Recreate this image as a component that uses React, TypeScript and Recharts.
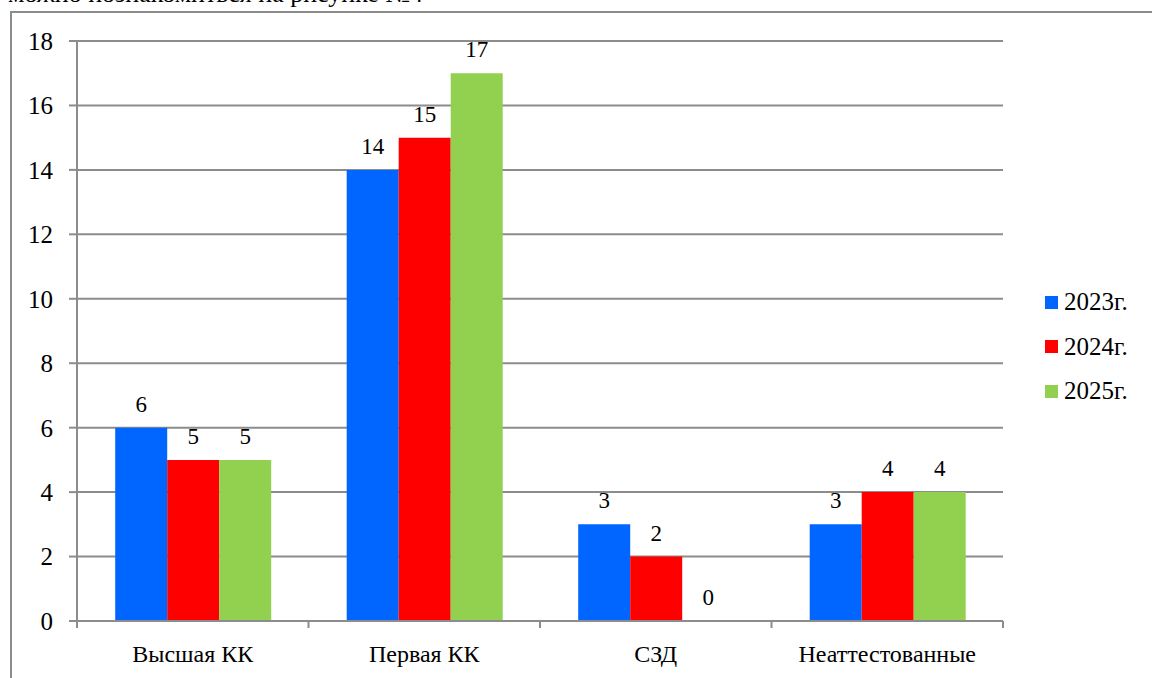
import { BarChart, Bar, XAxis, YAxis, CartesianGrid, Legend, LabelList } from 'recharts'

const categories = ['Высшая КК', 'Первая КК', 'СЗД', 'Неаттестованные']
const seriesNames = ['2023г.', '2024г.', '2025г.']
const values2023 = [6, 14, 3, 3]
const values2024 = [5, 15, 2, 4]
const values2025 = [5, 17, 0, 4]
const yTicks = [0, 2, 4, 6, 8, 10, 12, 14, 16, 18]

const COLORS = ['#0066FF', '#FF0000', '#92D050']
const FONT = 'Tinos, "Liberation Serif", "Times New Roman", Times, "DejaVu Serif", "Noto Serif", serif'
const AXIS = '#8c8c8c'

const data = categories.map((name, i) => ({
  name,
  y2023: values2023[i],
  y2024: values2024[i],
  y2025: values2025[i],
}))

const keys = ['y2023', 'y2024', 'y2025']

// zero-height bars get dropped from the label list, so give them a hair of height
const tinyForZero = (v: any) => (v === 0 || (Array.isArray(v) && v[1] === 0) ? 0.01 : 0)

function CategoryTick(props: any) {
  const { x, y, payload, index, visibleTicksCount } = props
  const half = payload.offset || 0
  const isLast = index === visibleTicksCount - 1
  return (
    <g>
      <line x1={x - half} x2={x - half} y1={y} y2={y + 7} stroke={AXIS} strokeWidth={2} />
      {isLast && <line x1={x + half} x2={x + half} y1={y} y2={y + 7} stroke={AXIS} strokeWidth={2} />}
      <text x={x} y={y + 41} textAnchor="middle" fill="#000" fontSize={24} style={{ fontFamily: FONT }}>
        {payload.value}
      </text>
    </g>
  )
}

function ValueLabel(props: any) {
  const { x, y, width, value } = props
  if (value === undefined || value === null) return null
  return (
    <text x={x + width / 2} y={y - 16} textAnchor="middle" fill="#000" fontSize={23} style={{ fontFamily: FONT }}>
      {String(value)}
    </text>
  )
}

function LegendContent() {
  return (
    <div style={{ paddingLeft: 42 }}>
      {seriesNames.map((s, i) => (
        <div key={s} style={{ display: 'flex', alignItems: 'center', height: 44.5 }}>
          <span style={{ display: 'inline-block', width: 13, height: 13, background: COLORS[i], marginRight: 6 }} />
          <span style={{ fontFamily: FONT, fontSize: 25, color: '#000' }}>{s}</span>
        </div>
      ))}
    </div>
  )
}

export default function App() {
  return (
    <div style={{ position: 'absolute', left: 0, top: 0, width: 1152, height: 678, overflow: 'hidden', background: '#fff', fontFamily: FONT }}>
      <div
        style={{
          position: 'absolute',
          left: 8,
          top: -21,
          fontSize: 26,
          lineHeight: '30px',
          whiteSpace: 'nowrap',
          color: '#000',
        }}
      >
        можно познакомиться на рисунке №4
      </div>
      <div
        style={{
          position: 'absolute',
          left: 10,
          top: 11,
          width: 1200,
          height: 700,
          borderLeft: `2px solid ${AXIS}`,
          borderTop: `2px solid ${AXIS}`,
        }}
      />
      <div style={{ position: 'absolute', left: 0, top: 0 }}>
        <BarChart
          width={1152}
          height={678}
          data={data}
          margin={{ top: 41, right: 0, bottom: 0, left: 17 }}
          barCategoryGap="16.5%"
          barGap={0}
          style={{ fontFamily: FONT }}
        >
          <CartesianGrid horizontal vertical={false} stroke={AXIS} strokeWidth={2} />
          <XAxis
            dataKey="name"
            height={57}
            axisLine={{ stroke: AXIS, strokeWidth: 2 }}
            tickLine={false}
            tickSize={0}
            tickMargin={0}
            interval={0}
            tick={<CategoryTick />}
          />
          <YAxis
            width={60}
            domain={[0, 18]}
            ticks={yTicks}
            interval={0}
            axisLine={{ stroke: AXIS, strokeWidth: 2 }}
            tickLine={{ stroke: AXIS, strokeWidth: 2 }}
            tickSize={8}
            tickMargin={16}
            tick={{ fill: '#000', fontSize: 25, style: { fontFamily: FONT } }}
          />
          <Legend
            layout="vertical"
            align="right"
            verticalAlign="middle"
            width={149}
            wrapperStyle={{ top: 280, right: 0, width: 149 }}
            content={<LegendContent />}
          />
          {keys.map((k, i) => (
            <Bar
              key={k}
              dataKey={k}
              name={seriesNames[i]}
              fill={COLORS[i]}
              minPointSize={tinyForZero}
              isAnimationActive={false}
            >
              <LabelList dataKey={k} content={<ValueLabel />} />
            </Bar>
          ))}
        </BarChart>
      </div>
    </div>
  )
}
